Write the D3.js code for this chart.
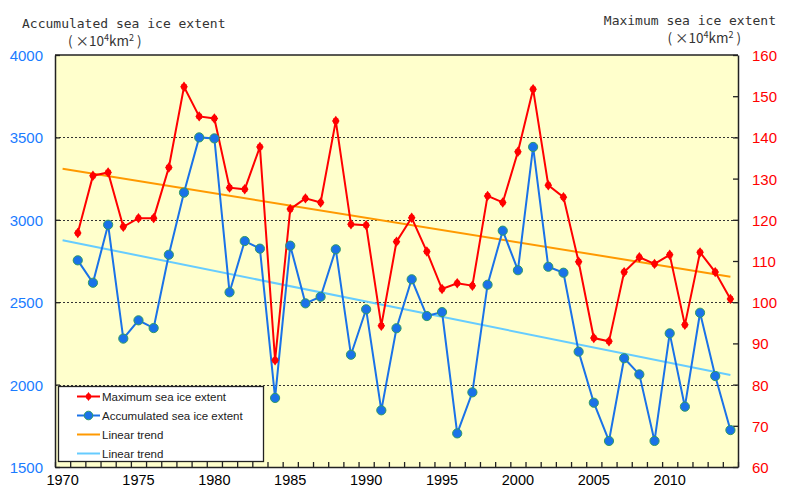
<!DOCTYPE html>
<html>
<head>
<meta charset="utf-8">
<script src="https://cdn.jsdelivr.net/npm/d3@7"></script>
<style>
  html, body { margin: 0; padding: 0; background: #ffffff; }
  svg { display: block; }
</style>
</head>
<body>
<svg id="chart" width="790" height="489"></svg>
<script>
// ---------------- DATA ----------------
const years = [1971,1972,1973,1974,1975,1976,1977,1978,1979,1980,
               1981,1982,1983,1984,1985,1986,1987,1988,1989,1990,
               1991,1992,1993,1994,1995,1996,1997,1998,1999,2000,
               2001,2002,2003,2004,2005,2006,2007,2008,2009,2010,
               2011,2012,2013,2014];
// Maximum sea ice extent (x10^4 km2), right axis
const maxExtent = [116.8,130.7,131.5,118.3,120.4,120.4,132.7,152.3,145.1,144.6,
                   127.8,127.4,137.7,85.9,122.6,125.2,124.2,144.0,118.9,118.7,
                   94.3,114.7,120.5,112.3,103.2,104.6,104.0,125.8,124.2,136.5,
                   151.7,128.4,125.5,109.8,91.3,90.5,107.3,110.9,109.3,111.5,
                   94.5,112.1,107.3,100.8];
// Accumulated sea ice extent (x10^4 km2), left axis
const accumExtent = [2754,2618,2970,2279,2390,2343,2788,3165,3500,3494,
                     2560,2871,2825,1919,2843,2493,2533,2821,2181,2457,
                     1844,2342,2639,2416,2440,1704,1953,2606,2934,2694,
                     3442,2715,2679,2200,1890,1658,2160,2062,1658,2311,
                     1866,2436,2052,1724];
// Linear trend end points
const trendYears = [1970, 2014];
const maxTrend = [132.4, 106.2];
const accumTrend = [2876, 2058];
// Tick labels
const leftTicks = [1500,2000,2500,3000,3500,4000];
const rightTicks = [60,70,80,90,100,110,120,130,140,150,160];
const xLabels = [1970,1975,1980,1985,1990,1995,2000,2005,2010];
const gridValues = [2000,2500,3000,3500];
const legendLabels = ["Maximum sea ice extent","Accumulated sea ice extent","Linear trend","Linear trend"];

// ---------------- LAYOUT ----------------
const svg = d3.select("#chart");
const L = 55, R = 738, T = 55, B = 467;
const x = d3.scaleLinear().domain([1969.5, 2014.5]).range([L, R]);
const yL = d3.scaleLinear().domain([1500, 4000]).range([B, T]);
const yR = d3.scaleLinear().domain([60, 160]).range([B, T]);

const RED = "#ff0000", BLUE = "#1a72e8", ORANGE = "#ff9900", LBLUE = "#66ccff";
const AX = "#222222";

// plot background
svg.append("rect").attr("x", L).attr("y", T).attr("width", R - L).attr("height", B - T)
  .attr("fill", "#ffffcc");

// gridlines
svg.append("g").selectAll("line").data(gridValues).join("line")
  .attr("x1", L).attr("x2", R)
  .attr("y1", d => Math.round(yL(d)) + 0.5).attr("y2", d => Math.round(yL(d)) + 0.5)
  .attr("stroke", "#333").attr("stroke-width", 1).attr("stroke-dasharray", "2,2");

// axes
const leftAxis = d3.axisLeft(yL).tickValues(leftTicks).tickSizeInner(-5).tickSizeOuter(0).tickFormat("");
const rightAxis = d3.axisRight(yR).tickValues(rightTicks).tickSizeInner(-5).tickSizeOuter(0).tickFormat("");
const bottomTicks = d3.range(1969.5, 2015, 1);
const bottomAxis = d3.axisBottom(x).tickValues(bottomTicks).tickSizeInner(-5).tickSizeOuter(0).tickFormat("");

function styleAxis(g) {
  g.selectAll("path").attr("stroke", AX).attr("stroke-width", 1.5);
  g.selectAll("line").attr("stroke", AX).attr("stroke-width", 1.3);
}
svg.append("g").attr("transform", `translate(${L},0)`).call(leftAxis).call(styleAxis);
svg.append("g").attr("transform", `translate(${R},0)`).call(rightAxis).call(styleAxis);
svg.append("g").attr("transform", `translate(0,${B})`).call(bottomAxis).call(styleAxis);
// top border
svg.append("line").attr("x1", L).attr("x2", R).attr("y1", T).attr("y2", T)
  .attr("stroke", AX).attr("stroke-width", 1.5);

// tick labels
const tickFont = "'Liberation Sans', Arial, sans-serif";
svg.append("g").selectAll("text").data(leftTicks).join("text")
  .attr("x", 43).attr("y", d => yL(d) + 6)
  .attr("text-anchor", "end").attr("font-family", tickFont).attr("font-size", 15)
  .attr("fill", "#1a7cff").text(d => d);
svg.append("g").selectAll("text").data(rightTicks).join("text")
  .attr("x", 752).attr("y", d => yR(d) + 6)
  .attr("text-anchor", "start").attr("font-family", tickFont).attr("font-size", 15)
  .attr("fill", "#ff0000").text(d => d);
svg.append("g").selectAll("text").data(xLabels).join("text")
  .attr("x", d => x(d)).attr("y", 485)
  .attr("text-anchor", "middle").attr("font-family", tickFont).attr("font-size", 14.5)
  .attr("fill", "#000").text(d => d);

// titles
const monoFont = "'DejaVu Sans Mono', monospace";
svg.append("text").attr("x", 22).attr("y", 28).attr("font-family", monoFont)
  .attr("font-size", 13).attr("fill", "#333").text("Accumulated sea ice extent");
svg.append("text").attr("x", 776).attr("y", 25).attr("text-anchor", "end").attr("font-family", monoFont)
  .attr("font-size", 13).attr("fill", "#333").text("Maximum sea ice extent");
function unitText(xPos, yPos, anchor) {
  const t = svg.append("text").attr("x", xPos).attr("y", yPos).attr("text-anchor", anchor)
    .attr("font-family", "'Noto Sans CJK JP', 'Noto Sans', sans-serif").attr("font-size", 13.5).attr("fill", "#333");
  t.append("tspan").text("( ×10");
  t.append("tspan").attr("font-size", 9).attr("dy", -5).text("4");
  t.append("tspan").attr("dy", 5).text("km");
  t.append("tspan").attr("font-size", 9).attr("dy", -5).text("2");
  t.append("tspan").attr("dy", 5).text(" )");
}
unitText(68, 46, "start");
unitText(741, 43, "end");

// trend lines
const trendLineL = d3.line().x((d, i) => x(trendYears[i])).y(d => yL(d));
const trendLineR = d3.line().x((d, i) => x(trendYears[i])).y(d => yR(d));
svg.append("path").datum(maxTrend).attr("d", trendLineR)
  .attr("fill", "none").attr("stroke", ORANGE).attr("stroke-width", 2);
svg.append("path").datum(accumTrend).attr("d", trendLineL)
  .attr("fill", "none").attr("stroke", LBLUE).attr("stroke-width", 2);

// series lines
const lineR = d3.line().x((d, i) => x(years[i])).y(d => yR(d));
const lineL = d3.line().x((d, i) => x(years[i])).y(d => yL(d));
svg.append("path").datum(maxExtent).attr("d", lineR)
  .attr("fill", "none").attr("stroke", RED).attr("stroke-width", 2);
svg.append("path").datum(accumExtent).attr("d", lineL)
  .attr("fill", "none").attr("stroke", BLUE).attr("stroke-width", 2);

// markers
const diamondPath = "M0,-5.2L3.8,0L0,5.2L-3.8,0Z";
function redMarker(g) {
  g.append("path").attr("d", diamondPath).attr("fill", RED);
  g.append("rect").attr("x", -2.6).attr("y", -2.6).attr("width", 5.2).attr("height", 5.2).attr("fill", RED);
}
svg.append("g").selectAll("g").data(maxExtent).join("g")
  .attr("transform", (d, i) => `translate(${x(years[i])},${yR(d)})`)
  .each(function () { redMarker(d3.select(this)); });
svg.append("g").selectAll("circle").data(accumExtent).join("circle")
  .attr("cx", (d, i) => x(years[i])).attr("cy", d => yL(d)).attr("r", 4.6)
  .attr("fill", BLUE).attr("stroke", "#2f9a66").attr("stroke-width", 1);

// legend
const lg = svg.append("g");
lg.append("rect").attr("x", 58.5).attr("y", 386.5).attr("width", 205).attr("height", 75)
  .attr("fill", "#ffffff").attr("stroke", AX).attr("stroke-width", 1.3);
const legendColors = [RED, BLUE, ORANGE, LBLUE];
const rowsY = [396.5, 415.5, 434.5, 453.5];
legendLabels.forEach((lab, i) => {
  const yy = rowsY[i];
  lg.append("line").attr("x1", 77).attr("x2", 100).attr("y1", yy).attr("y2", yy)
    .attr("stroke", legendColors[i]).attr("stroke-width", 2);
  if (i === 0) {
    const m = lg.append("g").attr("transform", `translate(88.5,${yy}) scale(0.85)`);
    redMarker(m);
  } else if (i === 1) {
    lg.append("circle").attr("cx", 88.5).attr("cy", yy).attr("r", 4.3)
      .attr("fill", BLUE).attr("stroke", "#2f9a66").attr("stroke-width", 1);
  }
  lg.append("text").attr("x", 102).attr("y", yy + 4).attr("font-family", tickFont)
    .attr("font-size", 11.5).attr("fill", "#222").text(lab);
});
</script>
</body>
</html>
